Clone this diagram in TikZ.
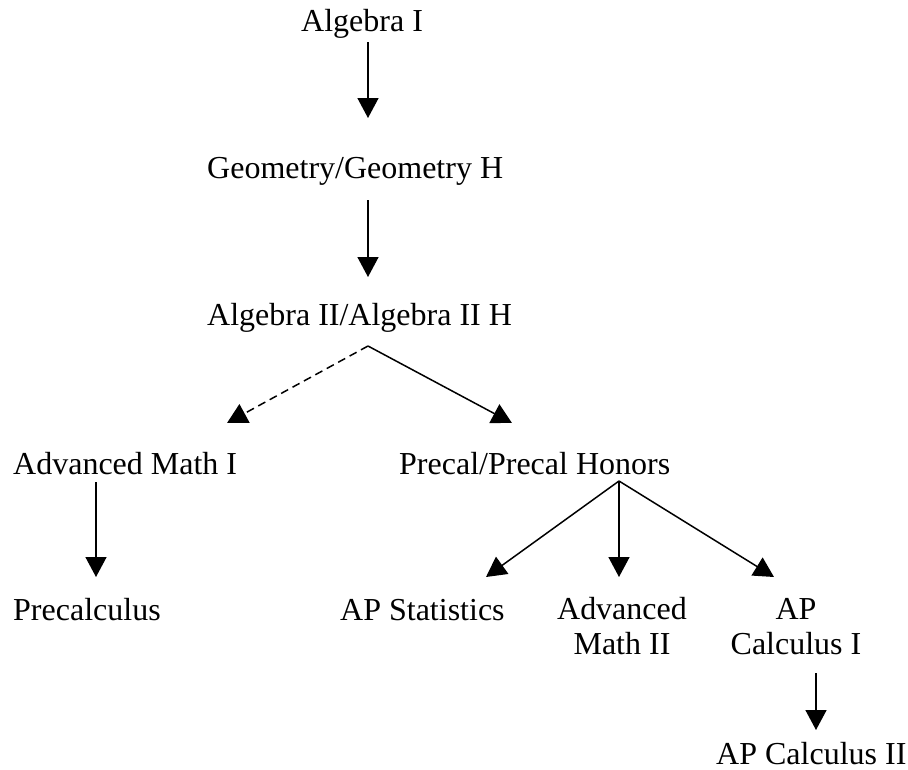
\documentclass[tikz,border=0pt]{standalone}
\usepackage{fontspec}
\setmainfont{Liberation Serif}
\usetikzlibrary{arrows.meta}
\begin{document}
\begin{tikzpicture}[x=1pt,y=-1pt,
  lbl/.style={inner sep=0pt,font=\fontsize{32}{35}\selectfont},
  conn/.style={line width=1.5pt},
  arr/.style={conn,-{Triangle[width=21pt,length=20pt]}},
  darr/.style={arr,dash pattern=on 8pt off 5pt}]
\useasboundingbox (0,0) rectangle (908,769);
% texts
\node[lbl,anchor=base west] (alg1) at (301,31) {Algebra I};
\node[lbl,anchor=base west] (geo) at (207,178) {Geometry/Geometry H};
\node[lbl,anchor=base west] (alg2) at (207,325) {Algebra II/Algebra II H};
\node[lbl,anchor=base west] (adv1) at (13,474) {Advanced Math I};
\node[lbl,anchor=base west] (precal) at (399,474) {Precal/Precal Honors};
\node[lbl,anchor=base west] (precalc) at (13,620) {Precalculus};
\node[lbl,anchor=base west] (stat) at (340,620) {AP Statistics};
\node[lbl,anchor=base,align=center] (adv2) at (622,654) {Advanced\\Math II};
\node[lbl,anchor=base,align=center] (calc1) at (796,654) {AP\\Calculus I};
\node[lbl,anchor=base west] (calc2) at (716,764) {AP Calculus II};
% connector end points
\coordinate (a1) at (368,42);   \coordinate (g1) at (368,118);
\coordinate (g2) at (368,200);  \coordinate (b1) at (368,277);
\coordinate (b2) at (368,346);
\coordinate (m1) at (227,423);  \coordinate (p1) at (512,423);
\coordinate (m2) at (96,482);   \coordinate (c1) at (96,577);
\coordinate (p2) at (619,481);
\coordinate (s1) at (486,577);  \coordinate (v1) at (619,577);
\coordinate (k1) at (774,577);
\coordinate (k2) at (816,673);  \coordinate (k3) at (816,730);
% connectors
\draw[arr] (a1) -- (g1);
\draw[arr] (g2) -- (b1);
\draw[darr] (b2) -- (m1);
\draw[arr] (b2) -- (p1);
\draw[arr] (m2) -- (c1);
\draw[arr] (p2) -- (s1);
\draw[arr] (p2) -- (v1);
\draw[arr] (p2) -- (k1);
\draw[arr] (k2) -- (k3);
\end{tikzpicture}
\end{document}
